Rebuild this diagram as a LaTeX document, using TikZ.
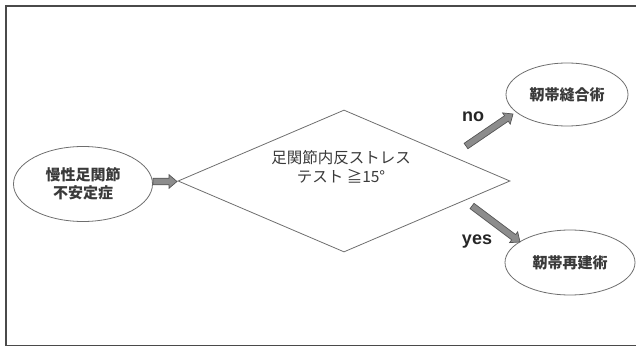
\documentclass[tikz,border=0pt]{standalone}
\usepackage{fontspec}
\setmainfont{Liberation Sans}
\newfontfamily\jp{Noto Sans CJK JP}
\usetikzlibrary{shapes.geometric,calc}
\definecolor{txt}{HTML}{3A3A3A}
\definecolor{edge}{HTML}{6E6E6E}
\definecolor{arrfill}{HTML}{8C8C8C}
\definecolor{arrline}{HTML}{555555}
\definecolor{framec}{HTML}{4A4A4A}
\tikzset{
  oval/.style={ellipse, draw=edge, line width=0.8pt, inner sep=0pt, text=txt,
    font=\jp\bfseries\fontsize{15}{19}\selectfont, align=center},
  decision/.style={diamond, draw=edge, line width=0.8pt, inner sep=0pt},
  dtext/.style={text=txt, font=\jp\fontsize{15.5}{19}\selectfont, align=center},
  answer/.style={text=black!85, font=\bfseries\fontsize{18}{20}\selectfont},
  blockarrow/.style={fill=arrfill, draw=arrline, line width=0.7pt, line join=miter},
  framestyle/.style={draw=framec, line width=1.3pt}
}
\newcommand{\blockarr}[2]{%
  \coordinate (hb) at ($(#2)!8pt!(#1)$);
  \filldraw[blockarrow] ($(#1)!3.3pt!90:(#2)$) -- ($(hb)!3.3pt!-90:(#1)$) --
    ($(hb)!6.8pt!-90:(#1)$) -- (#2) -- ($(hb)!6.8pt!90:(#1)$) --
    ($(hb)!3.3pt!90:(#1)$) -- ($(#1)!3.3pt!-90:(#2)$) -- cycle;}
\begin{document}
\begin{tikzpicture}[x=1pt,y=-1pt]
\useasboundingbox (0,0) rectangle (636,347);
% frame
\coordinate (f1) at (640,6);
\coordinate (f2) at (6,6);
\coordinate (f3) at (6,345.5);
\coordinate (f4) at (640,345.5);
\draw[framestyle] (f1) -- (f2) -- (f3) -- (f4);
% nodes
\node[oval, minimum width=139pt, minimum height=75pt] (start) at (83,184)
  {慢性足関節\\[-1pt]不安定症};
\node[decision, minimum width=332pt, minimum height=142pt] (test) at (344,181) {};
\node[dtext] (testtxt) at (341,167) {足関節内反ストレス\\テスト ≧15°};
\node[oval, minimum width=122pt, minimum height=63pt] (suture) at (567,94.5) {靭帯縫合術};
\node[oval, minimum width=130pt, minimum height=65pt] (recon) at (570,262.5) {靭帯再建術};
\node[answer] (no) at (473,117) {no};
\node[answer] (yes) at (477,242) {yes};
% block arrows
\coordinate (a1s) at (153,181.5);
\coordinate (a1e) at (177,181.5);
\coordinate (a2s) at (466,146);
\coordinate (a2e) at (513,114);
\coordinate (a3s) at (472,206);
\coordinate (a3e) at (520,242);
\blockarr{a1s}{a1e}
\blockarr{a2s}{a2e}
\blockarr{a3s}{a3e}
\end{tikzpicture}
\end{document}
